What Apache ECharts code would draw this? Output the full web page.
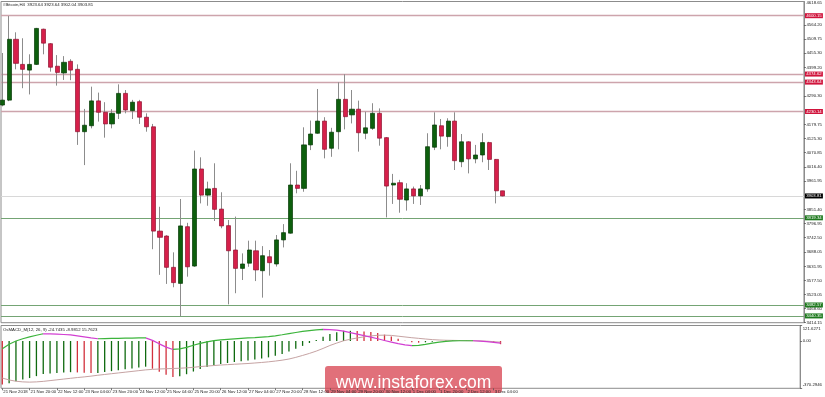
<!DOCTYPE html>
<html><head><meta charset="utf-8">
<script src="https://cdn.jsdelivr.net/npm/echarts@6/dist/echarts.min.js"></script>
<style>html,body{margin:0;padding:0;background:#fff}#c{width:825px;height:397px}</style>
</head><body><div id="c"></div>
<script>
// ---------- DATA ----------
const opens  = [4255,4274,4509,4412,4390,4412,4548,4492,4405,4379,4424,4393,4152,4175,4271,4227,4182,4223,4300,4233,4268,4208,4171,3768,3749,3628,3566,3785,3633,4008,3907,3933,3853,3789,3695,3624,3644,3692,3615,3669,3641,3734,3760,3946,3933,4101,4146,4193,4088,4152,4277,4217,4239,4146,4165,4223,4129,3946,3955,3888,3931,3904,3931,4092,4175,4133,4193,4036,4113,4047,4062,4110,4045,3923.64];
const highs  = [4456,4599,4536,4513,4451,4553,4550,4494,4448,4444,4432,4412,4240,4326,4303,4266,4239,4335,4313,4275,4275,4223,4182,3862,3752,3686,3892,3800,4079,4053,3959,4030,3918,3811,3824,3682,3731,3731,3710,3695,3753,3795,4030,4001,4169,4195,4317,4208,4167,4343,4374,4313,4272,4229,4262,4242,4131,3989,3966,3953,3940,3946,4146,4227,4201,4204,4227,4143,4115,4101,4146,4113,4046,3923.64];
const lows   = [4250,4270,4393,4320,4296,4410,4451,4384,4330,4352,4351,4101,4023,4165,4191,4129,4165,4201,4223,4201,4182,4152,3698,3599,3564,3551,3440,3592,3630,3875,3866,3807,3779,3485,3528,3579,3630,3575,3511,3596,3631,3705,3758,3914,3920,4081,4144,4049,4055,4084,4161,4184,4075,4123,4159,4098,3821,3873,3839,3847,3873,3869,3920,4081,4084,4094,4004,4015,3991,4030,4034,4004,3875,3902.04];
const closes = [4274,4509,4416,4393,4412,4551,4494,4401,4381,4420,4390,4152,4177,4271,4227,4182,4223,4300,4236,4266,4208,4171,3768,3744,3628,3569,3788,3630,4008,3907,3931,3852,3788,3692,3624,3641,3695,3618,3673,3646,3734,3762,3946,3933,4101,4143,4193,4084,4150,4277,4210,4239,4148,4167,4223,4127,3942,3953,3891,3931,3904,3931,4094,4178,4135,4193,4040,4113,4047,4062,4110,4045,3923.64,3903.81];

const timeLabels = ['21 Nov 2018','21 Nov 20:00','22 Nov 12:00','23 Nov 04:00','23 Nov 20:00','24 Nov 12:00','25 Nov 04:00','25 Nov 20:00','26 Nov 12:00','27 Nov 04:00','27 Nov 20:00','28 Nov 12:00','29 Nov 04:00','29 Nov 20:00','30 Nov 12:00','1 Dec 04:00','1 Dec 20:00','2 Dec 12:00','3 Dec 04:00'];
const timeLabelIdx = [0,4,8,12,16,20,24,28,32,36,40,44,48,52,56,60,64,68,72];

const priceTicks = [4618.65,4564.20,4509.75,4455.30,4399.20,4290.30,4179.75,4125.30,4070.85,4016.40,3961.95,3851.40,3796.95,3742.50,3688.05,3631.95,3577.50,3523.05,3468.60,3414.15];
const resistLevels = [4600.15,4374.62,4343.64,4230.14];
const supportLevels = [3819.34,3482.57,3440.35];
const lastPrice = 3903.81;

const macdMain = [-340,-330,-315,-302,-290,-275,-259,-254,-250,-247,-244,-246,-249,-251,-250,-243,-236,-229,-222,-215,-208,-201,-217,-241,-265,-281,-275,-260,-239,-219,-203,-189,-179,-172,-165,-158,-152,-145,-137,-128,-116,-101,-83,-61,-38,-15,9,34,55,69,80,80,78,75,70,63,50,36,18,2,-10,-13,-10,-5,0,4,6,6,5,4,1,-5,-15,-24.7435];
const macdSignal = [-290,-305,-315,-320,-322,-320,-316,-310,-304,-298,-292,-286,-281,-275,-268,-262,-256,-250,-244,-238,-232,-226,-222,-219,-217,-215,-213,-210,-206,-200,-196,-192,-188,-185,-182,-179,-176,-172,-168,-163,-157,-150,-141,-128,-113,-97,-79,-58,-35,-16,2,14,24,33,40,45,46,44,38,32,26,21,16,11,8,6,5,4,3,2,1,-1,-5,-8.9812];
const osma = [-60,-25,0,18,32,45,57,56,54,51,48,40,32,24,18,19,20,21,22,23,24,25,5,-22,-48,-66,-62,-50,-33,-19,-7,3,9,13,17,21,24,27,31,35,41,49,58,67,75,82,88,92,90,85,78,66,54,42,30,18,4,-8,-20,-30,-36,-34,-26,-16,-8,-2,1,2,2,2,0,-4,-10,-15.76];
const macdTicks = [121.6271, 0, -370.2946];
const macdTickLabels = ['121.6271','0.00','-370.2946'];

// ---------- CHART ----------
const FONT = 'Liberation Sans';
const FS = 4.3;
const GREEN = '#0d5f0d', RED = '#d6204a';
const chart = echarts.init(document.getElementById('c'), null, {renderer:'canvas'});

const wickData = opens.map((o,i)=>[i,o,closes[i],lows[i],highs[i]]);
const bodyData = opens.map((o,i)=>[i,o,closes[i],Math.min(o,closes[i]),Math.max(o,closes[i])]);

const lvlLabel = (bg)=>({show:true,position:'end',distance:1,color:'#fff',backgroundColor:bg,padding:[0.6,1.2,0.4,1.2],fontSize:FS,fontFamily:FONT,formatter:p=>p.value.toFixed(2)});
const markData = [
  ...resistLevels.map(v=>({yAxis:v,lineStyle:{color:'#cda4ac',width:1.4,type:'solid'},label:lvlLabel('#d0143c')})),
  ...supportLevels.map(v=>({yAxis:v,lineStyle:{color:'#74a474',width:1,type:'solid'},label:lvlLabel('#1f7a1f')})),
  {yAxis:lastPrice,lineStyle:{color:'#d8d8d8',width:1,type:'solid'},label:lvlLabel('#000')}
];

// visual pieces for OsMA line (rising green / falling magenta)
const pieces = [];
for (let i=0;i<osma.length-1;i++){
  const col = osma[i+1]>=osma[i] ? '#3cb43c' : '#d23fd2';
  const last = pieces[pieces.length-1];
  if (last && last.color===col) last.lt = i+1; else pieces.push({gte:i,lt:i+1,color:col});
}
pieces[0].gte = -5; pieces[pieces.length-1].lt = 500;

const xMin = -0.19, xMax = 116.9;
const option = {
  animation:false,
  backgroundColor:'#fff',
  textStyle:{fontFamily:FONT},
  title:[
    {text:'#Bitcoin,H4  '+opens[73].toFixed(2)+' '+highs[73].toFixed(2)+' '+lows[73].toFixed(2)+' '+closes[73].toFixed(2),left:3,top:2.5,padding:0,textStyle:{fontSize:FS,fontWeight:'normal',color:'#222',fontFamily:FONT}},
    {text:'OsMACD_M(12, 26, 9) -24.7435 -8.9812 15.7623',left:3,top:328,padding:0,textStyle:{fontSize:FS,fontWeight:'normal',color:'#222',fontFamily:FONT}}
  ],
  grid:[
    {left:1,top:1.5,width:805.5,height:321.2,show:true,borderColor:'#8c8c8c',borderWidth:1,backgroundColor:'transparent'},
    {left:1,top:325.5,width:805.5,height:62.8,show:true,borderColor:'#8c8c8c',borderWidth:1,backgroundColor:'transparent'}
  ],
  xAxis:[
    {type:'value',gridIndex:0,min:xMin,max:xMax,show:false,splitLine:{show:false},axisLine:{onZero:false}},
    {type:'value',gridIndex:1,min:xMin,max:xMax,position:'bottom',splitLine:{show:false},
     axisLine:{show:false,onZero:false},
     axisTick:{show:true,customValues:timeLabelIdx,length:2,lineStyle:{color:'#555',width:0.8}},
     axisLabel:{customValues:timeLabelIdx,hideOverlap:false,fontSize:FS,color:'#222',fontFamily:FONT,margin:1.2,align:'left',padding:[0,0,0,1],
       formatter:v=>{const k=timeLabelIdx.indexOf(Math.round(v));return k>=0?timeLabels[k]:'';}}}
  ],
  yAxis:[
    {type:'value',gridIndex:0,position:'right',min:3414.15,max:4654.98,splitLine:{show:false},
     axisLine:{show:true,onZero:false,lineStyle:{color:'#8c8c8c'}},
     axisTick:{show:true,customValues:priceTicks.slice(1),length:2,lineStyle:{color:'#555',width:0.8}},
     axisLabel:{customValues:priceTicks,hideOverlap:false,fontSize:FS,color:'#222',fontFamily:FONT,margin:2.5,
       formatter:v=>{const s=v.toFixed(2);return Math.abs(v-priceTicks[0])<0.001?'{top|'+s+'}':s;},
       rich:{top:{padding:[0,0,17,0],fontSize:FS,color:'#222',fontFamily:FONT}}}},
    {type:'value',gridIndex:1,position:'right',min:-370.2946,max:121.6271,splitLine:{show:false},
     axisLine:{show:true,onZero:false,lineStyle:{color:'#8c8c8c'}},
     axisTick:{show:true,customValues:macdTicks,length:2,lineStyle:{color:'#555',width:0.8}},
     axisLabel:{customValues:macdTicks,hideOverlap:false,fontSize:FS,color:'#222',fontFamily:FONT,margin:2.5,
       formatter:v=>{let k=0,d=1e9;macdTicks.forEach((t,j)=>{if(Math.abs(t-v)<d){d=Math.abs(t-v);k=j;}});
         const s=macdTickLabels[k];return k===0?'{t|'+s+'}':(k===macdTicks.length-1?'{b|'+s+'}':s);},
       rich:{t:{padding:[7,0,0,0],fontSize:FS,color:'#222',fontFamily:FONT},b:{padding:[0,0,6,0],fontSize:FS,color:'#222',fontFamily:FONT}}}}
  ],
  visualMap:[{type:'piecewise',show:false,seriesIndex:4,dimension:0,pieces:pieces}],
  series:[
    {name:'wicks',type:'candlestick',xAxisIndex:0,yAxisIndex:0,data:wickData,barWidth:1,z:2,
     itemStyle:{color:'#8c8c8c',color0:'#8c8c8c',borderColor:'#8c8c8c',borderColor0:'#8c8c8c',borderWidth:1},
     markLine:{silent:true,symbol:['none','none'],z:1,animation:false,data:markData}},
    {name:'bodies',type:'candlestick',xAxisIndex:0,yAxisIndex:0,data:bodyData,barWidth:4.6,z:3,
     itemStyle:{color:GREEN,color0:RED,borderColor:'#063a06',borderColor0:'#8f1230',borderWidth:0.7}},
    {name:'macd',type:'bar',xAxisIndex:1,yAxisIndex:1,barWidth:1.3,
     data:macdMain.map((v,i)=>[i,v]),
     itemStyle:{color:p=>{const i=p.dataIndex;if(i===0)return '#d2303c';return macdMain[i]>=macdMain[i-1]?'#0f6a0f':'#d2303c';}}},
    {name:'signal',type:'line',xAxisIndex:1,yAxisIndex:1,showSymbol:false,symbol:'none',
     data:macdSignal.map((v,i)=>[i,v]),lineStyle:{color:'#c6a3a3',width:1}},
    {name:'osma',type:'line',xAxisIndex:1,yAxisIndex:1,showSymbol:false,symbol:'none',
     data:osma.map((v,i)=>[i,v]),lineStyle:{width:1.2}}
  ],
  graphic:[
    {type:'group',z:100,children:[
      {type:'rect',shape:{x:325,y:366,width:177,height:27,r:3},style:{fill:'rgba(216,72,84,0.78)'}},
      {type:'text',x:413.5,y:383.5,style:{text:'www.instaforex.com',fill:'#fff',font:'17.5px "Liberation Sans"',textAlign:'center',textVerticalAlign:'middle'}}
    ]}
  ]
};
chart.setOption(option);
</script>
</body></html>
